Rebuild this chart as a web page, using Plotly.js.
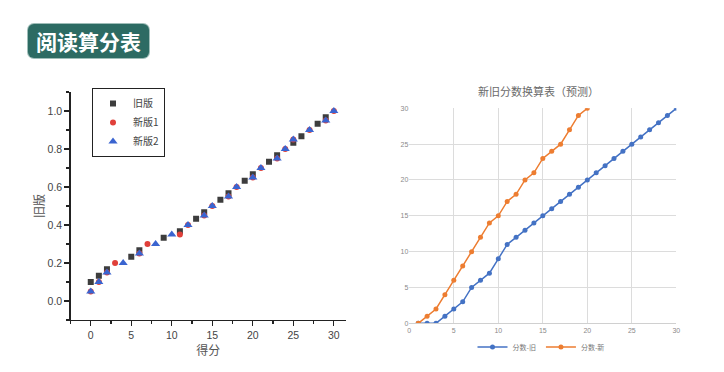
<!DOCTYPE html>
<html>
<head>
<meta charset="utf-8">
<script src="https://cdn.plot.ly/plotly-3.0.1.min.js"></script>
<style>
  html, body { margin: 0; padding: 0; background: #ffffff; }
  #wrap { position: relative; width: 724px; height: 372px; overflow: hidden; }
  #chart { position: absolute; left: 0; top: 0; width: 724px; height: 372px; }
  #badge {
    position: absolute; left: 28px; top: 24px; width: 121px; height: 34px;
    background: #2d6b63; border-radius: 6px;
    box-shadow: 0 0 0 1px #9fbdb8;
    color: #ffffff; font-family: "Noto Sans CJK SC", sans-serif; font-weight: bold;
    font-size: 21px; line-height: 34px; text-align: center; letter-spacing: 0px;
  }
</style>
</head>
<body>
<div id="wrap">
  <div id="chart"></div>
  <div id="badge">阅读算分表</div>
</div>
<script>
// ---- Left chart data (Origin-style scatter) ----
const oldX = [0, 1, 2, 5, 6, 9, 11, 13, 14, 16, 17, 19, 20, 22, 23, 25, 26, 28, 29];
const oldY = [0.1, 0.133, 0.167, 0.233, 0.267, 0.333, 0.367, 0.433, 0.467, 0.533, 0.567, 0.633, 0.667, 0.733, 0.767, 0.833, 0.867, 0.933, 0.967];

const new1X = [0, 1, 2, 3, 6, 7, 11, 12, 14, 15, 17, 18, 20, 21, 23, 24, 25, 27, 29, 30];
const new1Y = [0.05, 0.1, 0.15, 0.2, 0.25, 0.3, 0.35, 0.4, 0.45, 0.5, 0.55, 0.6, 0.65, 0.7, 0.75, 0.8, 0.85, 0.9, 0.95, 1.0];

const new2X = [0, 1, 2, 4, 6, 8, 10, 12, 14, 15, 17, 18, 20, 21, 23, 24, 25, 27, 29, 30];
const new2Y = [0.05, 0.1, 0.15, 0.2, 0.25, 0.3, 0.35, 0.4, 0.45, 0.5, 0.55, 0.6, 0.65, 0.7, 0.75, 0.8, 0.85, 0.9, 0.95, 1.0];

const leftNames = ["旧版", "新版1", "新版2"];

// ---- Right chart data (Excel-style line chart) ----
const scoreX = [1, 2, 3, 4, 5, 6, 7, 8, 9, 10, 11, 12, 13, 14, 15, 16, 17, 18, 19, 20, 21, 22, 23, 24, 25, 26, 27, 28, 29, 30];
const oldScore = [0, 0, 0, 1, 2, 3, 5, 6, 7, 9, 11, 12, 13, 14, 15, 16, 17, 18, 19, 20, 21, 22, 23, 24, 25, 26, 27, 28, 29, 30];
const newScoreX = [1, 2, 3, 4, 5, 6, 7, 8, 9, 10, 11, 12, 13, 14, 15, 16, 17, 18, 19, 20];
const newScore = [0, 1, 2, 4, 6, 8, 10, 12, 14, 15, 17, 18, 20, 21, 23, 24, 25, 27, 29, 30];
const rightNames = ["分数-旧", "分数-新"];
const rightTitle = "新旧分数换算表（预测）";

const CJK = '"Noto Sans CJK SC", "Noto Sans", sans-serif';
const ARIAL = 'Arial, "Liberation Sans", sans-serif';

const traces = [
  { x: oldX, y: oldY, name: leftNames[0], type: 'scatter', mode: 'markers',
    xaxis: 'x', yaxis: 'y', legend: 'legend',
    marker: { symbol: 'square', size: 6, color: '#3d3d3d' } },
  { x: new1X, y: new1Y, name: leftNames[1], type: 'scatter', mode: 'markers',
    xaxis: 'x', yaxis: 'y', legend: 'legend',
    marker: { symbol: 'circle', size: 6, color: '#e0403a' } },
  { x: new2X, y: new2Y, name: leftNames[2], type: 'scatter', mode: 'markers',
    xaxis: 'x', yaxis: 'y', legend: 'legend',
    marker: { symbol: 'triangle-up', size: 8, color: '#3a64d0' } },
  { x: scoreX, y: oldScore, name: rightNames[0], type: 'scatter', mode: 'lines+markers',
    xaxis: 'x2', yaxis: 'y2', legend: 'legend2',
    line: { color: '#4472c4', width: 1.5 }, marker: { size: 5, color: '#4472c4' } },
  { x: newScoreX, y: newScore, name: rightNames[1], type: 'scatter', mode: 'lines+markers',
    xaxis: 'x2', yaxis: 'y2', legend: 'legend2',
    line: { color: '#ed7d31', width: 1.5 }, marker: { size: 5, color: '#ed7d31' } }
];

const layout = {
  width: 724, height: 372,
  margin: { l: 0, r: 0, t: 0, b: 0 },
  paper_bgcolor: '#ffffff', plot_bgcolor: 'rgba(0,0,0,0)',
  showlegend: true,
  xaxis: {
    domain: [70.5 / 724, 346 / 724], range: [-2.5, 31.5],
    showgrid: false, zeroline: false, showline: true, linecolor: '#222', linewidth: 1.2,
    ticks: 'outside', ticklen: 5, tickcolor: '#222', tickwidth: 1.2,
    tickvals: [0, 5, 10, 15, 20, 25, 30],
    minor: { ticks: 'outside', ticklen: 3, tickcolor: '#222', dtick: 2.5, tick0: 0 },
    tickfont: { family: ARIAL, size: 10.5, color: '#444' },
    title: { text: '得分', font: { family: CJK, size: 12, color: '#555' }, standoff: 6 },
    anchor: 'y'
  },
  yaxis: {
    domain: [(372 - 320) / 372, (372 - 92) / 372], range: [-0.1, 1.1],
    showgrid: false, zeroline: false, showline: true, linecolor: '#222', linewidth: 1.2,
    ticks: 'outside', ticklen: 5, tickcolor: '#222', tickwidth: 1.2,
    tickvals: [0, 0.2, 0.4, 0.6, 0.8, 1.0], ticktext: ['0.0', '0.2', '0.4', '0.6', '0.8', '1.0'],
    minor: { ticks: 'outside', ticklen: 3, tickcolor: '#222', dtick: 0.1, tick0: 0 },
    tickfont: { family: ARIAL, size: 10.5, color: '#444' },
    title: { text: '旧版', font: { family: CJK, size: 12, color: '#555' }, standoff: 0 },
    anchor: 'x'
  },
  xaxis2: {
    domain: [409.3 / 724, 676.3 / 724], range: [0, 30],
    showgrid: true, gridcolor: '#dcdcdc', gridwidth: 1, dtick: 5, tick0: 0,
    zeroline: false, showline: true, linecolor: '#d0d0d0', linewidth: 1, mirror: false,
    ticks: '', tickfont: { family: ARIAL, size: 7, color: '#8a8a8a' },
    anchor: 'y2'
  },
  yaxis2: {
    domain: [(372 - 323.3) / 372, (372 - 108.3) / 372], range: [0, 30],
    showgrid: true, gridcolor: '#dcdcdc', gridwidth: 1, dtick: 5, tick0: 0,
    zeroline: false, showline: false,
    ticks: '', tickfont: { family: ARIAL, size: 7, color: '#8a8a8a' },
    anchor: 'x2'
  },
  legend: {
    x: 92 / 724, y: (372 - 88) / 372, xanchor: 'left', yanchor: 'top',
    bgcolor: '#ffffff', bordercolor: '#222', borderwidth: 1,
    font: { family: CJK, size: 10, color: '#444' },
    tracegroupgap: 0, itemwidth: 30
  },
  legend2: {
    orientation: 'h', x: 541 / 724, y: (372 - 347) / 372, xanchor: 'center', yanchor: 'middle',
    bgcolor: 'rgba(0,0,0,0)', borderwidth: 0,
    font: { family: CJK, size: 7, color: '#777' }, itemwidth: 30
  },
  annotations: [
    { text: rightTitle, xref: 'paper', yref: 'paper', x: 538 / 724, y: (372 - 91) / 372,
      xanchor: 'center', yanchor: 'middle', showarrow: false,
      font: { family: CJK, size: 11, color: '#6a6a6a' } }
  ]
};

Plotly.newPlot('chart', traces, layout, { displayModeBar: false, staticPlot: true });
</script>
</body>
</html>
